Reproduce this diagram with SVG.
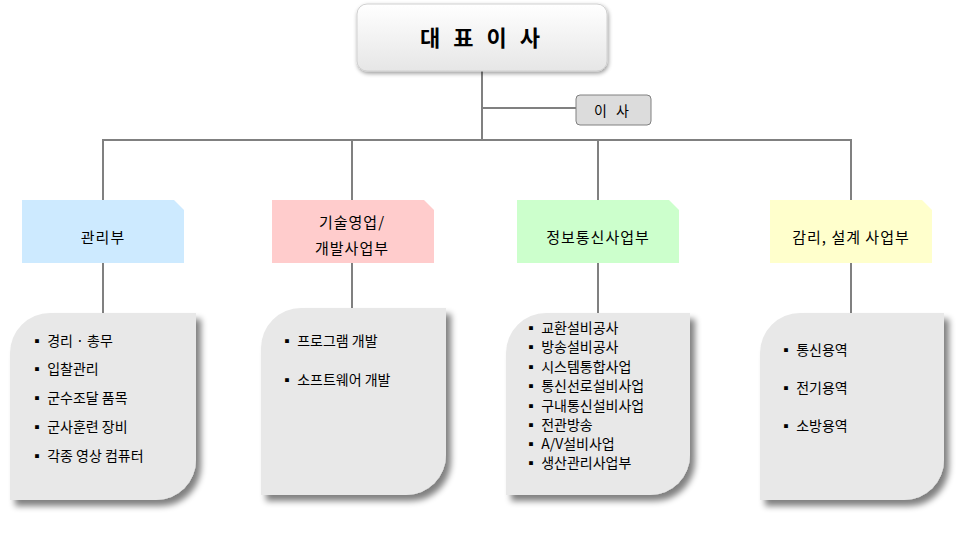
<svg xmlns="http://www.w3.org/2000/svg" width="975" height="555" viewBox="0 0 975 555">
<defs>
<linearGradient id="g" x1="0" y1="0" x2="0" y2="1"><stop offset="0" stop-color="#ffffff"/><stop offset="1" stop-color="#e6e6e6"/></linearGradient>
<filter id="sh" x="-20%" y="-20%" width="150%" height="150%"><feGaussianBlur in="SourceAlpha" stdDeviation="3"/><feOffset dx="5" dy="6"/><feComponentTransfer><feFuncA type="linear" slope="0.5"/></feComponentTransfer><feMerge><feMergeNode/><feMergeNode in="SourceGraphic"/></feMerge></filter>
<filter id="sh2" x="-20%" y="-20%" width="150%" height="150%"><feGaussianBlur in="SourceAlpha" stdDeviation="2"/><feOffset dx="1" dy="2"/><feComponentTransfer><feFuncA type="linear" slope="0.4"/></feComponentTransfer><feMerge><feMergeNode/><feMergeNode in="SourceGraphic"/></feMerge></filter>
</defs>
<style>
text{font-family:"Noto Sans CJK KR","Liberation Sans",sans-serif;fill:#000}
.dep{font-size:15px;text-anchor:middle;letter-spacing:1px}
.li{font-size:14px}
.lst{fill:#e8e8e8;filter:url(#sh)}
line,polyline{stroke:#808080;stroke-width:2;fill:none}
</style>
<g id="connectors">
<line x1="482" y1="71" x2="482" y2="140"/>
<line x1="482" y1="108" x2="576" y2="108"/>
<polyline points="103,200 103,140 851,140 851,200"/>
<line x1="352" y1="140" x2="352" y2="200"/>
<line x1="598" y1="140" x2="598" y2="200"/>
<line x1="103" y1="263" x2="103" y2="313"/>
<line x1="352" y1="263" x2="352" y2="308"/>
<line x1="598" y1="263" x2="598" y2="313"/>
<line x1="851" y1="263" x2="851" y2="313"/>
</g>
<g id="ceo"><rect x="357" y="4" width="250" height="67" rx="10" fill="url(#g)" stroke="#d0d0d0" filter="url(#sh2)"/><text x="482" y="46" font-size="22" text-anchor="middle" letter-spacing="4" font-weight="bold">대 표 이 사</text></g>
<g id="director"><rect x="576" y="95" width="75" height="30" rx="4" fill="#dcdcdc" stroke="#808080"/><text x="613" y="116" font-size="14" text-anchor="middle" letter-spacing="3">이 사</text></g>
<g id="d1"><path d="M22,200H174L184,210V263H22Z" fill="#cdeaff"/><text class="dep" x="103" y="243">관리부</text></g>
<g id="d2"><path d="M272,200H424L434,210V263H272Z" fill="#ffcccc"/><text class="dep" x="352" y="228">기술영업/</text><text class="dep" x="352" y="254">개발사업부</text></g>
<g id="d3"><path d="M517,200H669L679,210V263H517Z" fill="#ccffcc"/><text class="dep" x="598" y="243">정보통신사업부</text></g>
<g id="d4"><path d="M770,200H922L932,210V263H770Z" fill="#ffffcc"/><text class="dep" x="851" y="243">감리, 설계 사업부</text></g>
<g id="l1"><path d="M50,313H196V460A40,40 0 0 1 156,500H10V353A40,40 0 0 1 50,313Z" class="lst"/>
<g class="li"><text x="30" y="346">▪  경리 · 총무</text><text x="30" y="374">▪  입찰관리</text><text x="30" y="403">▪  군수조달 품목</text><text x="30" y="432">▪  군사훈련 장비</text><text x="30" y="461">▪  각종 영상 컴퓨터</text></g></g>
<g id="l2"><path d="M301,308H446V455A40,40 0 0 1 406,495H261V348A40,40 0 0 1 301,308Z" class="lst"/>
<g class="li"><text x="280" y="346">▪  프로그램 개발</text><text x="280" y="385">▪  소프트웨어 개발</text></g></g>
<g id="l3"><path d="M546,313H690V455A40,40 0 0 1 650,495H506V353A40,40 0 0 1 546,313Z" class="lst"/>
<g class="li"><text x="524" y="333">▪  교환설비공사</text><text x="524" y="352">▪  방송설비공사</text><text x="524" y="372">▪  시스템통합사업</text><text x="524" y="391">▪  통신선로설비사업</text><text x="524" y="411">▪  구내통신설비사업</text><text x="524" y="430">▪  전관방송</text><text x="524" y="449">▪  A/V설비사업</text><text x="524" y="468">▪  생산관리사업부</text></g></g>
<g id="l4"><path d="M800,313H944V460A40,40 0 0 1 904,500H760V353A40,40 0 0 1 800,313Z" class="lst"/>
<g class="li"><text x="779" y="355">▪  통신용역</text><text x="779" y="393">▪  전기용역</text><text x="779" y="431">▪  소방용역</text></g></g>
</svg>
